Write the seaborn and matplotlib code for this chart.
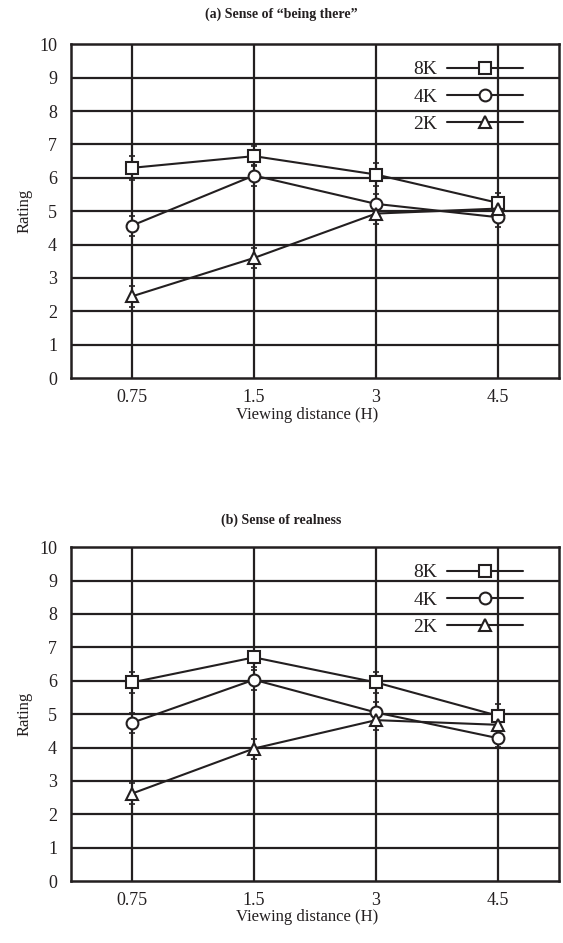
import numpy as np
import pandas as pd
import matplotlib
matplotlib.use("Agg")
import matplotlib.pyplot as plt
import seaborn as sns

sns.set_style("white")
plt.rcParams["font.family"] = ["Liberation Serif", "DejaVu Serif"]

# ── data ──
distances = ["0.75", "1.5", "3", "4.5"]
resolutions = ["8K", "4K", "2K"]
markers = {"8K": "s", "4K": "o", "2K": "^"}

being_8k = [6.3, 6.65, 6.1, 5.25]
being_4k = [4.57, 6.07, 5.22, 4.82]
being_2k = [2.45, 3.6, 4.93, 5.08]
being_err_8k = [0.35, 0.3, 0.35, 0.3]
being_err_4k = [0.3, 0.3, 0.3, 0.3]
being_err_2k = [0.32, 0.3, 0.3, 0.3]

real_8k = [5.95, 6.7, 5.95, 4.95]
real_4k = [4.74, 6.03, 5.05, 4.28]
real_2k = [2.62, 3.97, 4.82, 4.68]
real_err_8k = [0.32, 0.3, 0.32, 0.35]
real_err_4k = [0.3, 0.3, 0.32, 0.25]
real_err_2k = [0.32, 0.3, 0.3, 0.3]

panels = [
    ("(a) Sense of \u201cbeing there\u201d",
     {"8K": (being_8k, being_err_8k), "4K": (being_4k, being_err_4k), "2K": (being_2k, being_err_2k)}),
    ("(b) Sense of realness",
     {"8K": (real_8k, real_err_8k), "4K": (real_4k, real_err_4k), "2K": (real_2k, real_err_2k)}),
]

INK = "#231f20"

fig = plt.figure(figsize=(5.63, 9.43), dpi=100)
ax_pos = [[0.126, 0.599, 0.867, 0.354], [0.126, 0.0657, 0.867, 0.354]]
title_y = [14, 520]

for (title, series), pos, ty in zip(panels, ax_pos, title_y):
    ax = fig.add_axes(pos)
    rows = []
    for res in resolutions:
        vals, errs = series[res]
        for i, (v, e) in enumerate(zip(vals, errs)):
            rows.append({"pos": i, "rating": v, "err": e, "res": res})
    df = pd.DataFrame(rows)

    # grid first
    for y in range(1, 10):
        ax.axhline(y, color=INK, lw=1.6, zorder=1)
    for x in range(len(distances)):
        ax.axvline(x, color=INK, lw=1.6, zorder=1)

    for res in resolutions:
        sub = df[df["res"] == res]
        ax.errorbar(sub["pos"], sub["rating"], yerr=sub["err"], fmt="none",
                    ecolor=INK, elinewidth=1.2, capsize=2.5, capthick=1.2, zorder=2)

    sns.lineplot(data=df, x="pos", y="rating", hue="res", style="res",
                 markers=markers, dashes=False, palette=[INK] * 3,
                 hue_order=resolutions, style_order=resolutions,
                 markersize=8.5, markerfacecolor="white", markeredgecolor=INK,
                 markeredgewidth=1.5, linewidth=1.5, ax=ax, zorder=3, legend=False)

    ax.set_xlim(-0.5, 3.5)
    ax.set_ylim(0, 10)
    ax.set_xticks(range(len(distances)))
    ax.set_xticklabels(distances)
    ax.set_yticks(range(0, 11))
    ax.tick_params(axis="x", length=0, labelsize=13, colors=INK, pad=8)
    ax.tick_params(axis="y", length=0, labelsize=13, colors=INK, pad=10)
    ax.set_xlabel("Viewing distance (H)", fontsize=12, color=INK, labelpad=3)
    ax.xaxis.set_label_coords(0.484, -0.085)
    ax.set_ylabel("Rating", fontsize=12, color=INK, labelpad=5)
    for sp in ax.spines.values():
        sp.set_color(INK)
        sp.set_linewidth(1.8)

    handles = [plt.Line2D([], [], color=INK, lw=1.5, marker=markers[r], markersize=8.5,
                          markerfacecolor="white", markeredgecolor=INK, markeredgewidth=1.5)
               for r in resolutions]
    ax.legend(handles, resolutions, loc="upper right", bbox_to_anchor=(0.962, 1.003),
              frameon=False, markerfirst=False, handlelength=3.9, handletextpad=0.5,
              labelspacing=0.5, fontsize=14, labelcolor=INK)

    fig.text(0.5, 1 - ty / 943, title, ha="center", va="center",
             fontsize=10, fontweight="bold", color=INK)

fig.savefig("out.png", dpi=100, facecolor="white")
